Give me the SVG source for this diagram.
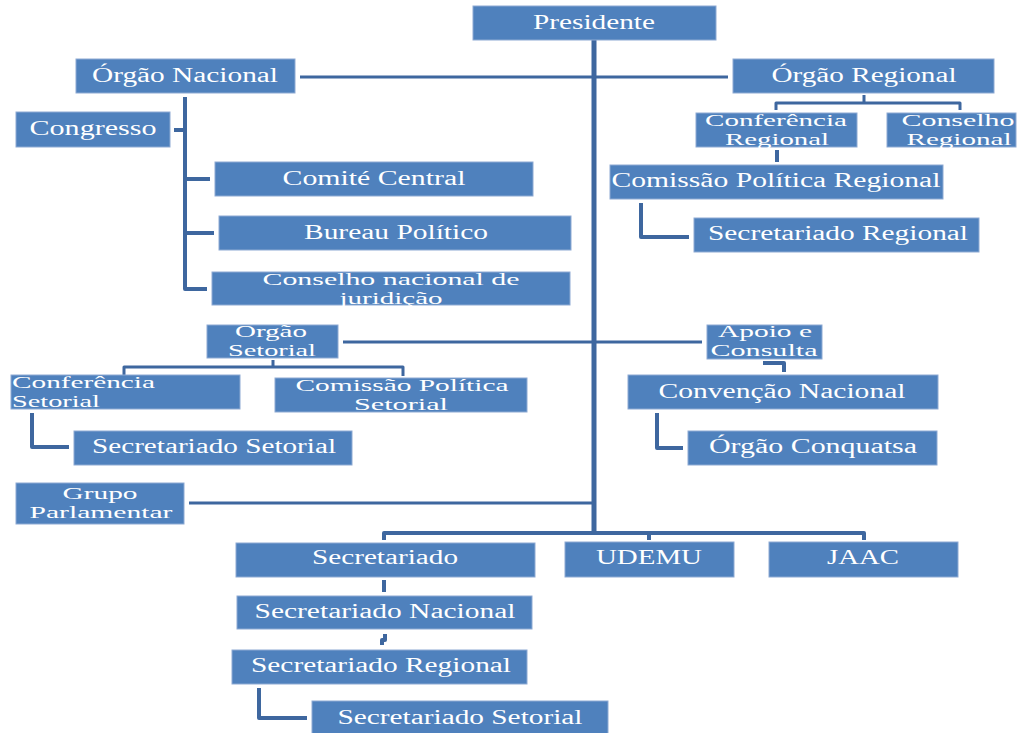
<svg xmlns="http://www.w3.org/2000/svg" width="1029" height="733" viewBox="0 0 1029 733">
<style>
.box{fill:#4F81BD;stroke:#8EAAD3;stroke-width:1}
.t{font-family:"Liberation Serif","Times New Roman",serif;font-size:20px;fill:#FFFFFF;text-anchor:middle}
.t2{font-size:17px}
.tl{text-anchor:start}
.c{fill:none;stroke:#3E679F;stroke-width:4;stroke-linejoin:round}
.thin{stroke-width:3}
.main{stroke-width:5}
</style>
<rect width="1029" height="733" fill="#FFFFFF"/>
<g id="connectors">
<path class="c main" d="M594,40 V533"/>
<path class="c thin" d="M300,77 H728"/>
<path class="c" d="M185,97 V289 H207 M174,130 H185 M185,179 H210 M185,233 H214"/>
<path class="c thin" d="M864,95 V103 M776,110 V103 H960 V110"/>
<path class="c" d="M777,150 V162"/>
<path class="c" d="M641,203 V237 H689"/>
<path class="c thin" d="M343,342 H702"/>
<path class="c thin" d="M273,360 V367 M124,375 V367 H403 V376"/>
<path class="c" d="M32,413 V447 H69"/>
<path class="c" d="M763,363 H784 V372"/>
<path class="c" d="M657,413 V448 H683"/>
<path class="c thin" d="M189,503 H594"/>
<path class="c" d="M384,540 V533 H864 V540 M649,533 V540"/>
<path class="c" d="M384,580 V592"/>
<path class="c" d="M385,634 V640 H382 V645"/>
<path class="c" d="M259,688 V718 H307"/>
</g>
<g id="presidente"><rect class="box" x="473" y="6" width="243" height="34"/><text class="t" x="594" y="29" textLength="122" lengthAdjust="spacingAndGlyphs">Presidente</text></g>
<g id="orgao-nacional"><rect class="box" x="76" y="59" width="219" height="34"/><text class="t" x="185" y="82" textLength="186" lengthAdjust="spacingAndGlyphs">Órgão Nacional</text></g>
<g id="congresso"><rect class="box" x="16" y="112" width="154" height="35"/><text class="t" x="93" y="135" textLength="127" lengthAdjust="spacingAndGlyphs">Congresso</text></g>
<g id="comite-central"><rect class="box" x="215" y="162" width="318" height="34"/><text class="t" x="374" y="185" textLength="183" lengthAdjust="spacingAndGlyphs">Comité Central</text></g>
<g id="bureau-politico"><rect class="box" x="219" y="216" width="352" height="34"/><text class="t" x="396" y="239" textLength="184" lengthAdjust="spacingAndGlyphs">Bureau Político</text></g>
<g id="conselho-nacional"><rect class="box" x="212" y="272" width="358" height="33"/><text class="t t2" x="391" y="285" textLength="257" lengthAdjust="spacingAndGlyphs">Conselho nacional de</text><text class="t t2" x="391" y="304" textLength="103" lengthAdjust="spacingAndGlyphs">juridição</text></g>
<g id="orgao-regional"><rect class="box" x="733" y="59" width="261" height="34"/><text class="t" x="864" y="82" textLength="185" lengthAdjust="spacingAndGlyphs">Órgão Regional</text></g>
<g id="conferencia-regional"><rect class="box" x="696" y="113" width="161" height="34"/><text class="t t2" x="776" y="126" textLength="142" lengthAdjust="spacingAndGlyphs">Conferência</text><text class="t t2" x="777" y="145" textLength="104" lengthAdjust="spacingAndGlyphs">Regional</text></g>
<g id="conselho-regional"><rect class="box" x="887" y="113" width="129" height="34"/><text class="t t2" x="958" y="126" textLength="113" lengthAdjust="spacingAndGlyphs">Conselho</text><text class="t t2" x="959" y="145" textLength="105" lengthAdjust="spacingAndGlyphs">Regional</text></g>
<g id="comissao-politica-regional"><rect class="box" x="610" y="165" width="333" height="34"/><text class="t" x="776" y="187" textLength="329" lengthAdjust="spacingAndGlyphs">Comissão Política Regional</text></g>
<g id="secretariado-regional"><rect class="box" x="694" y="218" width="285" height="34"/><text class="t" x="838" y="240" textLength="260" lengthAdjust="spacingAndGlyphs">Secretariado Regional</text></g>
<g id="orgao-setorial"><rect class="box" x="207" y="325" width="131" height="33"/><text class="t t2" x="271" y="337" textLength="72" lengthAdjust="spacingAndGlyphs">Orgão</text><text class="t t2" x="272" y="356" textLength="88" lengthAdjust="spacingAndGlyphs">Setorial</text></g>
<g id="conferencia-setorial"><rect class="box" x="11" y="375" width="229" height="34"/><text class="t t2 tl" x="12" y="388" textLength="143" lengthAdjust="spacingAndGlyphs">Conferência</text><text class="t t2 tl" x="12" y="407" textLength="88" lengthAdjust="spacingAndGlyphs">Setorial</text></g>
<g id="comissao-politica-setorial"><rect class="box" x="275" y="378" width="252" height="34"/><text class="t t2" x="402" y="391" textLength="213" lengthAdjust="spacingAndGlyphs">Comissão Política</text><text class="t t2" x="401" y="410" textLength="94" lengthAdjust="spacingAndGlyphs">Setorial</text></g>
<g id="secretariado-setorial"><rect class="box" x="74" y="431" width="278" height="34"/><text class="t" x="214" y="453" textLength="244" lengthAdjust="spacingAndGlyphs">Secretariado Setorial</text></g>
<g id="grupo-parlamentar"><rect class="box" x="16" y="483" width="168" height="41"/><text class="t t2" x="100" y="499" textLength="75" lengthAdjust="spacingAndGlyphs">Grupo</text><text class="t t2" x="101" y="518" textLength="143" lengthAdjust="spacingAndGlyphs">Parlamentar</text></g>
<g id="apoio-consulta"><rect class="box" x="707" y="325" width="115" height="34"/><text class="t t2" x="765" y="337" textLength="94" lengthAdjust="spacingAndGlyphs">Apoio e</text><text class="t t2" x="764" y="356" textLength="107" lengthAdjust="spacingAndGlyphs">Consulta</text></g>
<g id="convencao-nacional"><rect class="box" x="628" y="375" width="310" height="34"/><text class="t" x="782" y="398" textLength="247" lengthAdjust="spacingAndGlyphs">Convenção Nacional</text></g>
<g id="orgao-conquatsa"><rect class="box" x="688" y="431" width="249" height="34"/><text class="t" x="813" y="453" textLength="208" lengthAdjust="spacingAndGlyphs">Órgão Conquatsa</text></g>
<g id="secretariado"><rect class="box" x="236" y="543" width="299" height="34"/><text class="t" x="385" y="564" textLength="146" lengthAdjust="spacingAndGlyphs">Secretariado</text></g>
<g id="udemu"><rect class="box" x="565" y="542" width="169" height="35"/><text class="t" x="649" y="564" textLength="106" lengthAdjust="spacingAndGlyphs">UDEMU</text></g>
<g id="jaac"><rect class="box" x="769" y="542" width="189" height="35"/><text class="t" x="863" y="564" textLength="72" lengthAdjust="spacingAndGlyphs">JAAC</text></g>
<g id="secretariado-nacional"><rect class="box" x="237" y="596" width="295" height="33"/><text class="t" x="385" y="618" textLength="261" lengthAdjust="spacingAndGlyphs">Secretariado Nacional</text></g>
<g id="secretariado-regional-2"><rect class="box" x="232" y="650" width="295" height="34"/><text class="t" x="381" y="672" textLength="260" lengthAdjust="spacingAndGlyphs">Secretariado Regional</text></g>
<g id="secretariado-setorial-2"><rect class="box" x="312" y="701" width="296" height="33"/><text class="t" x="460" y="724" textLength="245" lengthAdjust="spacingAndGlyphs">Secretariado Setorial</text></g>
</svg>
